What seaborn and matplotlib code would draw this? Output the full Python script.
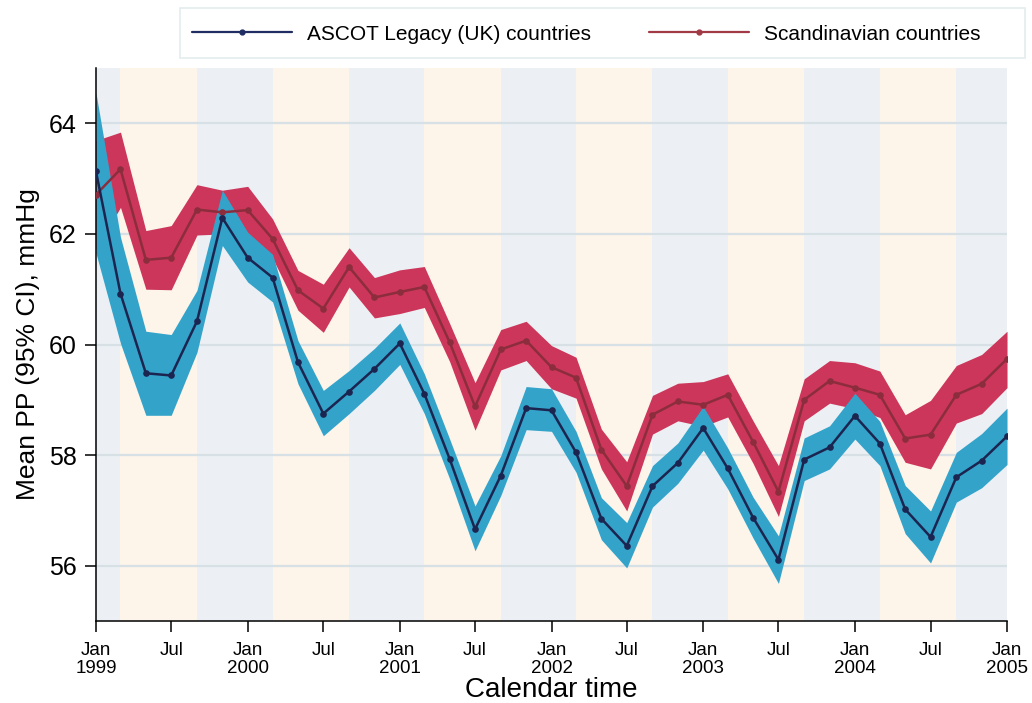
import matplotlib
matplotlib.use("Agg")
import matplotlib.pyplot as plt
from matplotlib.lines import Line2D
from matplotlib.patches import Rectangle
import numpy as np
import pandas as pd
import seaborn as sns

# Bimonthly calendar points, Jan 1999 - Jan 2005
dates = pd.date_range("1999-01-01", "2005-01-01", freq="2MS")

uk_mean = [63.13, 60.92, 59.48, 59.44, 60.42, 62.29, 61.57, 61.21, 59.68, 58.75,
           59.15, 59.56, 60.02, 59.11, 57.93, 56.66, 57.63, 58.85, 58.81, 58.05,
           56.85, 56.36, 57.44, 57.86, 58.49, 57.76, 56.87, 56.11, 57.92, 58.14,
           58.71, 58.21, 57.02, 56.52, 57.60, 57.90, 58.34]
uk_lower = [61.65, 60.02, 58.72, 58.72, 59.86, 61.79, 61.13, 60.77, 59.29, 58.35,
            58.75, 59.17, 59.64, 58.75, 57.57, 56.27, 57.27, 58.46, 58.43, 57.69,
            56.47, 55.96, 57.06, 57.49, 58.09, 57.39, 56.50, 55.68, 57.54, 57.75,
            58.29, 57.81, 56.58, 56.05, 57.15, 57.41, 57.83]
uk_upper = [64.55, 61.94, 60.24, 60.18, 60.98, 62.79, 62.03, 61.63, 60.07, 59.17,
            59.53, 59.93, 60.39, 59.47, 58.29, 57.08, 57.99, 59.24, 59.20, 58.43,
            57.23, 56.78, 57.81, 58.22, 58.88, 58.13, 57.24, 56.54, 58.31, 58.53,
            59.12, 58.61, 57.45, 56.99, 58.05, 58.39, 58.85]

sc_mean = [62.71, 63.17, 61.53, 61.57, 62.44, 62.39, 62.43, 61.91, 60.98, 60.65,
           61.40, 60.85, 60.95, 61.04, 60.04, 58.88, 59.91, 60.07, 59.59, 59.40,
           58.10, 57.44, 58.73, 58.97, 58.91, 59.09, 58.24, 57.34, 59.00, 59.34,
           59.22, 59.09, 58.30, 58.37, 59.09, 59.29, 59.74]
sc_lower = [61.73, 62.48, 61.00, 60.99, 61.98, 62.00, 62.00, 61.56, 60.62, 60.22,
            61.04, 60.48, 60.56, 60.67, 59.69, 58.45, 59.54, 59.71, 59.20, 59.03,
            57.75, 56.99, 58.38, 58.62, 58.52, 58.69, 57.85, 56.89, 58.62, 58.94,
            58.84, 58.68, 57.87, 57.75, 58.58, 58.75, 59.22]
sc_upper = [63.69, 63.84, 62.06, 62.15, 62.89, 62.79, 62.86, 62.27, 61.34, 61.09,
            61.75, 61.21, 61.35, 61.41, 60.38, 59.31, 60.27, 60.42, 59.98, 59.77,
            58.47, 57.88, 59.08, 59.30, 59.33, 59.47, 58.62, 57.81, 59.38, 59.71,
            59.67, 59.52, 58.73, 58.99, 59.62, 59.82, 60.24]

series_names = ["ASCOT Legacy (UK) countries", "Scandinavian countries"]
tick_dates = pd.date_range("1999-01-01", "2005-01-01", freq="6MS")
tick_labels = ["Jan\n1999", "Jul", "Jan\n2000", "Jul", "Jan\n2001", "Jul", "Jan\n2002",
               "Jul", "Jan\n2003", "Jul", "Jan\n2004", "Jul", "Jan\n2005"]
y_ticks = [56, 58, 60, 62, 64]

line_colors = {"ASCOT Legacy (UK) countries": "#1b2550",
               "Scandinavian countries": "#8c2d3d"}
band_colors = {"ASCOT Legacy (UK) countries": "#34a3ca",
               "Scandinavian countries": "#cc365a"}
legend_colors = {"ASCOT Legacy (UK) countries": "#1f2d62",
                 "Scandinavian countries": "#a23a45"}

sns.set_theme(style="white")
plt.rcParams["font.family"] = ["Liberation Sans", "DejaVu Sans"]
for key in ["text.color", "axes.labelcolor", "xtick.color", "ytick.color"]:
    plt.rcParams[key] = "black"

fig, ax = plt.subplots(figsize=(10.32, 7.03), dpi=100)
fig.subplots_adjust(left=0.093, right=0.9758, top=0.9033, bottom=0.1166)

start, end = pd.Timestamp("1999-01-01"), pd.Timestamp("2005-01-01")

# Seasonal shading: Sep-Feb (winter) and Mar-Aug (summer)
ax.axvspan(start, pd.Timestamp("1999-03-01"), color="#ecf0f4", lw=0, zorder=0)
for yr in range(1999, 2005):
    ax.axvspan(pd.Timestamp(f"{yr}-03-01"), pd.Timestamp(f"{yr}-09-01"),
               color="#fdf4ea", lw=0, zorder=0)
    stop = min(pd.Timestamp(f"{yr + 1}-03-01"), end)
    ax.axvspan(pd.Timestamp(f"{yr}-09-01"), stop, color="#ecf0f4", lw=0, zorder=0)

for yv in y_ticks:
    ax.axhline(yv, color="#d6e0e5", lw=1.6, zorder=0.5)

# Confidence bands: Scandinavian first, UK on top
ax.fill_between(dates, sc_lower, sc_upper, color=band_colors[series_names[1]],
                lw=0, zorder=1)
ax.fill_between(dates, uk_lower, uk_upper, color=band_colors[series_names[0]],
                lw=0, zorder=1.1)

df = pd.concat([
    pd.DataFrame({"date": dates, "pp": uk_mean, "group": series_names[0]}),
    pd.DataFrame({"date": dates, "pp": sc_mean, "group": series_names[1]}),
])
sns.lineplot(data=df, x="date", y="pp", hue="group", hue_order=series_names[::-1],
             palette=line_colors, marker="o", markersize=4.8, markeredgewidth=0,
             linewidth=1.8, ax=ax, legend=False, zorder=3)

ax.set_xlim(start, end)
ax.set_ylim(55, 65)
ax.set_xticks(tick_dates)
ax.set_xticklabels(tick_labels, fontsize=13.5, linespacing=1.05)
ax.set_yticks(y_ticks)
ax.set_yticklabels([str(v) for v in y_ticks], fontsize=18)
ax.tick_params(axis="both", direction="out", length=8, width=1.1, color="black",
               bottom=True, left=True)
ax.tick_params(axis="x", pad=7)
ax.tick_params(axis="y", pad=6)

for side in ["top", "right"]:
    ax.spines[side].set_visible(False)
for side in ["left", "bottom"]:
    ax.spines[side].set_color("black")
    ax.spines[side].set_linewidth(1.1)

ax.set_xlabel("Calendar time", fontsize=20, labelpad=0)
ax.set_ylabel("Mean PP (95% CI), mmHg", fontsize=19, labelpad=6)

# Legend above the plot, with its frame drawn in figure pixels
W, H = 1032, 703
fig.patches.append(Rectangle((180 / W, 1 - 58 / H), (1025 - 180) / W, 50 / H,
                             transform=fig.transFigure, facecolor="white",
                             edgecolor="#e4ecef", lw=1.2, zorder=0))
handles = [Line2D([0, 0.5, 1], [0, 0, 0], color=legend_colors[n], lw=1.6,
                  marker="o", markersize=3.5, markevery=[1]) for n in series_names]
fig.legend(handles, series_names, loc="center left",
           bbox_to_anchor=(188 / W, 1 - 34 / H), ncol=2, fontsize=15,
           frameon=False, handlelength=4.8, handletextpad=0.7, columnspacing=2.8,
           borderpad=0.2, borderaxespad=0)

fig.savefig("out.png", dpi=100)
